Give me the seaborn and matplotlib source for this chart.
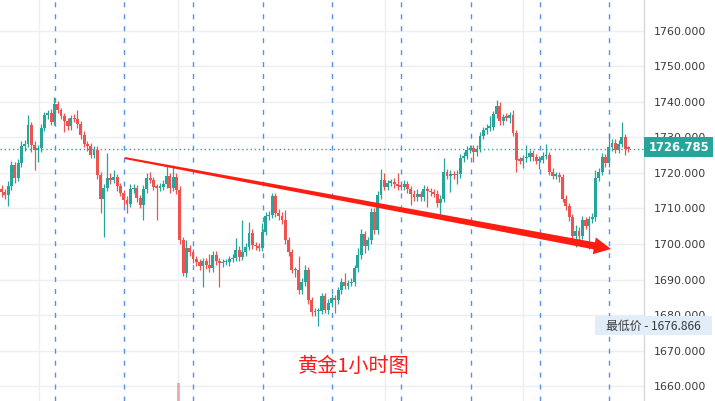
import numpy as np
import pandas as pd
import seaborn as sns
import matplotlib.pyplot as plt
from matplotlib.patches import Rectangle, Polygon
from matplotlib.transforms import IdentityTransform

# Gold 1h candles (close of each hour)
first_open = 1715.5
closes = [
    1714.6, 1713.8, 1716.3, 1722.3, 1718.6, 1722.8, 1727.6, 1728.2, 1733.5, 1727.9,
    1726.5, 1727.0, 1732.7, 1736.3, 1736.9, 1734.4, 1739.4, 1737.7, 1736.1, 1734.6,
    1733.2, 1735.5, 1735.2, 1733.8, 1730.7, 1728.2, 1727.6, 1725.1, 1726.5, 1719.4,
    1712.7, 1715.8, 1718.6, 1718.0, 1718.9, 1716.3, 1714.4, 1712.4, 1711.3, 1715.5,
    1715.8, 1713.0, 1711.0, 1715.5, 1718.6, 1718.0, 1716.1, 1715.8, 1716.1, 1716.9,
    1719.2, 1715.8, 1718.9, 1715.2, 1701.1, 1691.8, 1699.0, 1697.7, 1695.8, 1694.9,
    1693.8, 1695.2, 1694.1, 1693.2, 1696.9, 1695.2, 1694.6, 1694.9, 1694.9, 1695.8,
    1696.1, 1698.3, 1696.3, 1697.7, 1699.2, 1703.1, 1699.7, 1699.4, 1698.9, 1703.4,
    1707.9, 1708.2, 1713.5, 1708.7, 1707.9, 1706.8, 1701.1, 1697.7, 1692.7, 1692.7,
    1687.0, 1689.3, 1692.7, 1684.2, 1680.8, 1681.1, 1681.1, 1685.4, 1681.4, 1683.4,
    1684.8, 1684.2, 1687.0, 1689.3, 1688.2, 1689.0, 1689.3, 1693.2, 1696.9, 1702.8,
    1699.4, 1701.1, 1709.0, 1703.9, 1713.8, 1718.0, 1716.1, 1717.2, 1717.5, 1716.9,
    1716.3, 1716.1, 1716.9, 1715.5, 1714.1, 1713.2, 1714.1, 1713.2, 1715.5, 1714.9,
    1714.6, 1714.1, 1711.5, 1712.7, 1720.3, 1719.2, 1719.7, 1719.4, 1719.7, 1724.2,
    1724.8, 1726.5, 1727.0, 1725.9, 1726.8, 1730.4, 1732.1, 1732.7, 1733.0, 1736.6,
    1738.9, 1734.6, 1735.8, 1735.5, 1736.3, 1731.3, 1723.7, 1723.4, 1724.2, 1724.5,
    1725.6, 1724.5, 1723.4, 1723.7, 1724.8, 1725.1, 1720.3, 1719.2, 1719.4, 1718.9,
    1712.7, 1710.7, 1707.6, 1702.3, 1703.7, 1702.3, 1706.8, 1705.1, 1707.0, 1707.6,
    1718.6, 1720.3, 1724.5, 1722.8, 1727.3, 1728.5, 1726.5, 1728.2, 1730.1, 1726.8,
    1726.785,
]
# upper / lower wick above / below the body
up_wick = [
    1.0, 0.8, 1.5, 1.2, 0.8, 1.0, 1.5, 1.0, 2.8, 0.8,
    1.0, 0.8, 1.2, 1.0, 0.8, 1.0, 2.1, 0.8, 0.6, 0.8,
    1.0, 0.8, 1.2, 2.5, 0.8, 1.0, 0.8, 0.8, 1.2, 1.0,
    1.0, 1.2, 7.0, 1.5, 2.0, 0.8, 0.8, 0.8, 1.0, 1.5,
    1.0, 0.8, 0.8, 1.0, 1.5, 1.7, 0.8, 0.8, 1.0, 1.2,
    3.0, 0.8, 3.4, 1.0, 1.0, 1.0, 2.0, 0.8, 0.8, 0.8,
    0.8, 1.0, 0.8, 3.0, 1.2, 1.0, 0.8, 1.0, 0.8, 0.8,
    1.0, 3.4, 1.0, 9.0, 1.2, 3.0, 1.0, 0.8, 1.0, 2.5,
    1.2, 1.0, 0.9, 1.0, 1.2, 1.0, 2.8, 0.8, 1.0, 0.8,
    4.0, 1.0, 1.5, 0.8, 0.8, 1.0, 0.8, 0.8, 0.8, 1.0,
    1.2, 0.8, 1.0, 1.0, 2.5, 0.8, 1.0, 1.0, 2.0, 1.5,
    0.8, 1.0, 1.0, 1.0, 1.0, 3.0, 2.0, 0.8, 0.8, 1.0,
    3.0, 0.8, 1.0, 0.8, 0.8, 1.0, 1.5, 0.8, 1.2, 0.8,
    1.0, 0.8, 1.0, 1.0, 4.0, 0.8, 1.0, 0.8, 1.0, 1.2,
    1.0, 1.0, 1.0, 0.8, 1.0, 1.0, 0.8, 1.0, 3.0, 0.8,
    1.7, 1.0, 0.8, 1.0, 1.0, 1.4, 0.8, 0.8, 1.0, 3.5,
    1.0, 0.8, 0.8, 1.0, 1.0, 3.0, 0.8, 1.0, 0.8, 0.8,
    0.8, 1.0, 0.8, 0.8, 1.7, 1.0, 1.0, 0.8, 1.0, 1.0,
    2.2, 1.0, 1.0, 0.8, 4.0, 1.0, 1.0, 1.0, 4.3, 1.0,
    0.8,
]
dn_wick = [
    1.5, 1.0, 3.0, 1.0, 1.5, 1.0, 1.0, 1.5, 1.0, 2.0,
    5.7, 3.5, 1.0, 0.8, 1.0, 1.0, 1.0, 0.8, 1.0, 3.0,
    1.0, 1.0, 0.8, 1.0, 1.2, 1.0, 1.5, 1.0, 1.0, 1.0,
    4.0, 10.7, 1.0, 1.0, 0.8, 1.5, 1.0, 1.5, 2.6, 1.0,
    1.0, 1.2, 1.0, 4.2, 1.0, 0.8, 1.0, 9.0, 1.0, 0.8,
    1.0, 1.5, 1.0, 1.0, 1.0, 0.8, 1.0, 1.0, 1.2, 1.0,
    1.0, 6.0, 1.0, 1.0, 1.0, 1.0, 6.7, 1.0, 0.8, 1.0,
    1.0, 1.0, 1.0, 0.8, 1.0, 1.0, 1.0, 1.2, 1.0, 1.0,
    1.0, 1.0, 1.0, 1.0, 1.0, 1.2, 1.0, 1.0, 1.0, 2.0,
    1.0, 1.0, 1.0, 1.0, 1.0, 1.0, 4.2, 0.8, 0.8, 1.0,
    1.0, 3.6, 1.0, 1.0, 1.0, 1.0, 0.8, 1.0, 1.0, 1.0,
    2.0, 1.0, 1.0, 1.0, 1.0, 1.0, 1.0, 0.8, 0.8, 1.0,
    1.0, 1.0, 1.0, 1.0, 3.0, 1.0, 1.0, 1.0, 1.0, 4.5,
    1.0, 1.0, 1.0, 4.0, 1.0, 1.0, 4.6, 1.0, 2.5, 1.0,
    1.0, 0.8, 1.0, 2.8, 1.0, 1.0, 0.8, 1.0, 1.0, 0.8,
    1.0, 1.0, 1.0, 1.0, 1.5, 1.0, 3.4, 1.0, 2.0, 1.0,
    1.0, 1.0, 1.0, 2.3, 1.0, 1.0, 1.0, 1.0, 1.0, 1.5,
    1.0, 1.0, 1.0, 1.2, 3.1, 1.5, 1.0, 1.0, 6.4, 1.0,
    1.0, 1.0, 1.0, 1.0, 1.0, 1.0, 1.0, 1.0, 1.0, 1.7,
    0.8,
]
price_ticks = [1660, 1670, 1680, 1690, 1700, 1710, 1720, 1730, 1740, 1750, 1760]
last_price = 1726.785
low_price = 1676.866
title = "黄金1小时图"

# session markers (candle index)
day_lines = [16.2, 37.1, 58.0, 79.2, 100.1, 121.0, 142.2, 163.2, 184.1]
grid_x = [11.3, 53.5, 116.2, 158.0]
# trend arrow: start / tip (candle index, price)
arrow_start = (37.4, 1724.2)
arrow_tip = (184.7, 1698.6)

GREEN = "#26a69a"
RED = "#ef5350"

df = pd.DataFrame({"close": closes, "up": up_wick, "dn": dn_wick})
df["open"] = [first_open] + closes[:-1]
df["high"] = df[["open", "close"]].max(axis=1) + df["up"]
df["low"] = df[["open", "close"]].min(axis=1) - df["dn"]
df["idx"] = np.arange(len(df))
df["color"] = np.where(df["close"] >= df["open"], GREEN, RED)

sns.set_theme(style="white")
plt.rcParams["font.family"] = ["DejaVu Sans", "Noto Sans CJK SC"]

W, H = 715, 401
fig = plt.figure(figsize=(W / 100, H / 100), dpi=100)
ax = fig.add_axes([0, 0, 644 / W, 1])

ax.set_xlim(-0.48, 194.7)
ax.set_ylim(1655.8, 1768.7)

ax.set_yticks(price_ticks)
ax.set_yticklabels([f"{p:.3f}" for p in price_ticks])
ax.set_xticks(grid_x)
ax.set_xticklabels([])
ax.yaxis.tick_right()
ax.tick_params(axis="y", length=0, pad=7, labelsize=7.9, labelcolor="#3a3a3a")
ax.tick_params(axis="x", length=0)
ax.grid(True, color="#eeeff2", linewidth=1.0)
for s in ["top", "left", "bottom"]:
    ax.spines[s].set_visible(False)
ax.spines["right"].set_color("#d6d8dd")
ax.spines["right"].set_linewidth(1.0)

for x in day_lines:
    ax.axvline(x, color="#5b8fe8", linewidth=1.0, linestyle=(0, (3.6, 5.0)), zorder=1)

ax.axhline(last_price, color=GREEN, linewidth=1.0, linestyle=(0, (1, 2)), zorder=2)

# candles
ax.vlines(df["idx"], df["low"], df["high"], colors=df["color"], linewidth=0.9, zorder=3)
body = (df["close"] - df["open"]).abs().clip(lower=0.4)
ax.bar(df["idx"], body, bottom=df[["open", "close"]].min(axis=1), width=0.88,
       color=df["color"], linewidth=0, zorder=4)

# faint volume spike at the bottom
ax.bar([53.6], [5.0], bottom=1655.8, width=0.9, color=RED, alpha=0.45, linewidth=0, zorder=2)

# tapered red arrow drawn in pixels
fig.canvas.draw()
p0 = ax.transData.transform(arrow_start)
p1 = ax.transData.transform(arrow_tip)
u = (p1 - p0) / np.hypot(*(p1 - p0))
n = np.array([-u[1], u[0]])
base = p1 - u * 17
pts = [p0 + n * 1.0, base + n * 3.6, base + n * 8.5, p1,
       base - n * 8.5, base - n * 3.6, p0 - n * 1.0]
fig.add_artist(Polygon(pts, closed=True, facecolor="#ff1d12", edgecolor="none",
                       transform=IdentityTransform(), zorder=5))

# last price tag (covers the 1730 label, as in the original)
fig.add_artist(Rectangle((644 / W, 1 - 157 / H), 69 / W, 20 / H, transform=fig.transFigure,
                         facecolor=GREEN, edgecolor="none", zorder=6))
fig.text(678.5 / W, 1 - 147.5 / H, f"{last_price:.3f}", color="white", fontsize=8.3,
         fontweight="bold", ha="center", va="center", zorder=7)

# lowest price tag
fig.add_artist(Rectangle((595 / W, 1 - 335 / H), 117 / W, 19 / H, transform=fig.transFigure,
                         facecolor="#e1eefa", edgecolor="none", zorder=6))
fig.text(653 / W, 1 - 326 / H, f"最低价 - {low_price:.3f}", color="#3a3a3a", fontsize=8.6,
         ha="center", va="center", family=["Noto Sans CJK SC", "DejaVu Sans"], zorder=7)

fig.text(354 / W, 1 - 366 / H, title, color="#ff1a1a", fontsize=14.5,
         ha="center", va="center", family=["Noto Sans CJK SC", "DejaVu Sans"])

fig.savefig("out.png", dpi=100)
plt.close(fig)
